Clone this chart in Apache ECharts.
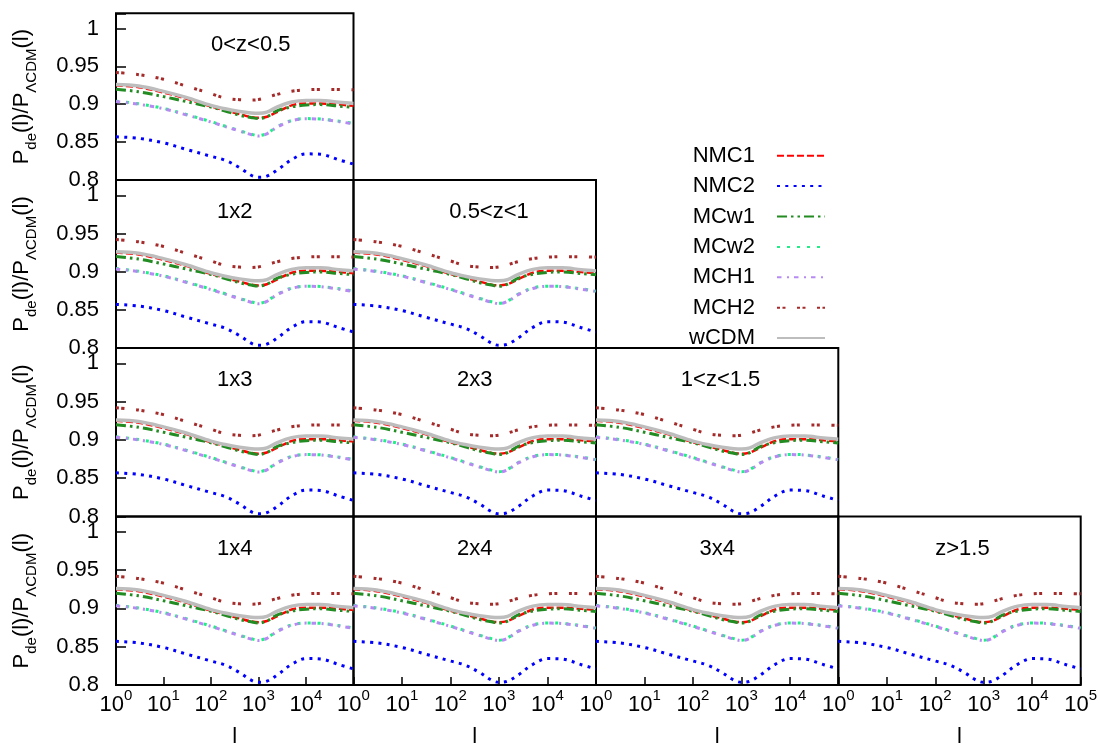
<!DOCTYPE html>
<html>
<head>
<meta charset="utf-8">
<script src="https://cdn.jsdelivr.net/npm/echarts@6/dist/echarts.min.js"></script>
<style>
  html, body { margin: 0; padding: 0; background: #fff; }
  #chart { width: 1100px; height: 744px; }
</style>
</head>
<body>
<div id="chart"></div>
<script>
// multipole l sample points
const ell = [1, 3, 10, 30, 100, 200, 400, 700, 1000, 1500, 2500, 5000, 10000, 20000, 50000, 100000];

// P_de(l) / P_LCDM(l) for each model
const nmc1 = [0.925, 0.9225, 0.9155, 0.9075, 0.897, 0.892, 0.887, 0.883, 0.882, 0.8835, 0.890, 0.8985, 0.901, 0.901, 0.8995, 0.898];
const nmc2 = [0.857, 0.855, 0.849, 0.8405, 0.8313, 0.826, 0.8162, 0.8063, 0.8035, 0.805, 0.8132, 0.827, 0.8345, 0.834, 0.8265, 0.821];
const mcw1 = [0.9198, 0.9165, 0.910, 0.9035, 0.8963, 0.891, 0.8855, 0.8825, 0.881, 0.8835, 0.8915, 0.8965, 0.899, 0.8995, 0.8975, 0.896];
const mcw2 = [0.904, 0.9005, 0.8945, 0.8865, 0.877, 0.871, 0.865, 0.8605, 0.8585, 0.8615, 0.8705, 0.8785, 0.881, 0.8805, 0.8775, 0.8745];
const mch1 = [0.9035, 0.900, 0.894, 0.886, 0.8765, 0.8705, 0.8645, 0.860, 0.858, 0.861, 0.870, 0.878, 0.8808, 0.8803, 0.877, 0.874];
const mch2 = [0.942, 0.939, 0.933, 0.924, 0.914, 0.908, 0.906, 0.9055, 0.9062, 0.909, 0.913, 0.9172, 0.919, 0.9196, 0.9195, 0.919];
const wcdm = [0.926, 0.924, 0.917, 0.909, 0.8985, 0.894, 0.8905, 0.8885, 0.888, 0.8895, 0.8965, 0.903, 0.905, 0.905, 0.9025, 0.901];

const seriesNames = ['NMC1', 'NMC2', 'MCw1', 'MCw2', 'MCH1', 'MCH2', 'wCDM'];
const seriesValues = [nmc1, nmc2, mcw1, mcw2, mch1, mch2, wcdm];

// panel labels, row by row (lower-triangular layout)
const panelLabels = [
  ['0<z<0.5'],
  ['1x2', '0.5<z<1'],
  ['1x3', '2x3', '1<z<1.5'],
  ['1x4', '2x4', '3x4', 'z>1.5']
];

// left edge of each redshift-bin label, as a fraction of the panel width
const binLabelAnchor = { '0<z<0.5': 0.40, '0.5<z<1': 0.395, '1<z<1.5': 0.35, 'z>1.5': 0.40 };

const FONT = '"Liberation Sans", Arial, Helvetica, sans-serif';
const FS = 22;

const lineStyles = {
  NMC1: { color: '#ff0000', width: 2.5, type: [7, 3] },
  NMC2: { color: '#0000ff', width: 3, type: [3, 5.3] },
  MCw1: { color: '#228b22', width: 3, type: [10, 4, 2.5, 4, 2.5, 4] },
  MCw2: { color: '#22ee88', width: 3, type: [3, 7] },
  MCH1: { color: '#b68af2', width: 3, type: [4.5, 5.5, 2, 5] },
  MCH2: { color: '#a52a2a', width: 3, type: [3, 2.5, 3, 11.5] },
  wCDM: { color: '#bdbdbd', width: 3.5, type: 'solid' }
};

// panel frame edges in pixels
const colEdges = [116, 353.5, 596, 838.3, 1080.7];
const rowEdges = [13.3, 180, 348, 516.5, 685];

const grids = [], xAxes = [], yAxes = [], series = [], graphics = [];
let gi = 0;
for (let r = 0; r < panelLabels.length; r++) {
  for (let c = 0; c <= r; c++) {
    const left = colEdges[c], top = rowEdges[r];
    const width = colEdges[c + 1] - left, height = rowEdges[r + 1] - top;
    const bottomRow = r === panelLabels.length - 1;
    const firstCol = c === 0;
    grids.push({
      left, top, width, height, show: true, borderColor: '#000', borderWidth: 2,
      backgroundColor: 'transparent', containLabel: false, outerBoundsMode: 'none'
    });
    xAxes.push({
      gridIndex: gi, type: 'log', logBase: 10, min: 1, max: 100000, splitNumber: 5,
      axisLine: { show: false },
      axisTick: { show: bottomRow, inside: true, length: 8, lineStyle: { color: '#000', width: 1.5 } },
      minorTick: { show: false },
      splitLine: { show: false },
      axisLabel: {
        show: bottomRow, margin: 3.4, showMaxLabel: c === 3, showMinLabel: true,
        formatter: v => '{b|10}{s|' + Math.round(Math.log10(v)) + '}',
        rich: {
          b: { fontSize: FS, fontFamily: FONT, color: '#000', lineHeight: 28, verticalAlign: 'bottom' },
          s: { fontSize: 15, fontFamily: FONT, color: '#000', lineHeight: 28, verticalAlign: 'top' }
        }
      },
      name: bottomRow ? 'l' : '',
      nameLocation: 'middle', nameGap: 41,
      nameTextStyle: { fontSize: FS, fontFamily: FONT, color: '#000' }
    });
    yAxes.push({
      gridIndex: gi, type: 'value', min: 0.8, max: 1.02, interval: 0.05,
      axisLine: { show: false },
      axisTick: { show: firstCol, inside: true, length: 10, lineStyle: { color: '#000', width: 1.5 } },
      splitLine: { show: false },
      axisLabel: {
        show: firstCol, margin: 17, fontSize: FS, fontFamily: FONT, color: '#000',
        formatter: v => (Math.abs(v * 20 - Math.round(v * 20)) < 1e-6 ? String(+v.toFixed(2)) : '')
      },
      name: firstCol ? '{a|P}{s|de}{a|(l)/P}{s|ΛCDM}{a|(l)}' : '',
      nameLocation: 'middle', nameRotate: 90, nameGap: 77,
      nameTextStyle: {
        fontFamily: FONT, color: '#000',
        rich: {
          a: { fontSize: FS, fontFamily: FONT, color: '#000', lineHeight: 28, verticalAlign: 'top' },
          s: { fontSize: 15, fontFamily: FONT, color: '#000', lineHeight: 28, verticalAlign: 'bottom' }
        }
      }
    });
    seriesNames.forEach((name, k) => {
      series.push({
        name, type: 'line', xAxisIndex: gi, yAxisIndex: gi,
        data: ell.map((l, i) => [l, seriesValues[k][i]]),
        smooth: 0.35, symbol: 'none', showSymbol: false, silent: true,
        lineStyle: Object.assign({ cap: 'butt' }, lineStyles[name]),
        itemStyle: { color: lineStyles[name].color },
        clip: true, z: 2 + k
      });
    });
    // redshift-bin labels sit left-aligned; cross-bin labels are centred
    const label = panelLabels[r][c];
    const anchor = binLabelAnchor[label];
    const isBin = anchor !== undefined;
    graphics.push({
      type: 'text', x: isBin ? left + anchor * width : left + width / 2, y: top + 32,
      style: { text: label, font: FS + 'px ' + FONT, fill: '#000', align: isBin ? 'left' : 'center', verticalAlign: 'middle' }
    });
    gi++;
  }
}

const chart = echarts.init(document.getElementById('chart'), null, { renderer: 'canvas' });
chart.setOption({
  backgroundColor: '#fff',
  animation: false,
  grid: grids,
  xAxis: xAxes,
  yAxis: yAxes,
  series,
  graphic: graphics,
  legend: {
    data: seriesNames,
    orient: 'vertical', left: 684, top: 139.7,
    align: 'right', itemWidth: 48, itemHeight: 14, itemGap: 8.4,
    selectedMode: false,
    itemStyle: { opacity: 0 },
    textStyle: { fontSize: FS, fontFamily: FONT, color: '#000', lineHeight: 20, padding: [0, 17, 0, 0] }
  }
});
</script>
</body>
</html>
